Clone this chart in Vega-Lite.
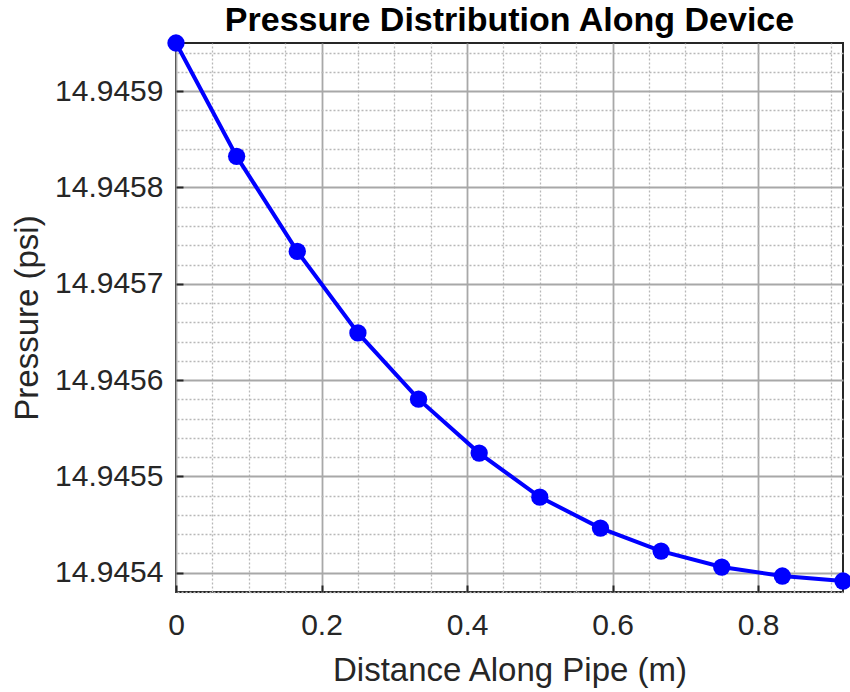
{
  "$schema": "https://vega.github.io/schema/vega-lite/v6.json",
  "width": 667,
  "height": 549,
  "autosize": {"type": "none"},
  "padding": {"left": 176, "top": 43, "right": 7, "bottom": 100},
  "background": "white",
  "title": {
    "text": "Pressure Distribution Along Device",
    "font": "Liberation Sans",
    "fontSize": 34,
    "fontWeight": "bold",
    "color": "#000000",
    "anchor": "middle",
    "frame": "group",
    "offset": -4
  },
  "config": {
    "view": {"stroke": "#262626", "strokeWidth": 2},
    "axis": {
      "labelFont": "Liberation Sans",
      "titleFont": "Liberation Sans",
      "labelColor": "#262626",
      "titleColor": "#262626",
      "labelFontSize": 30,
      "titleFontSize": 33,
      "titleFontWeight": "normal"
    }
  },
  "data": {
    "values": [
      {"distance": 0.0, "pressure": 14.94595},
      {"distance": 0.083333, "pressure": 14.9458323},
      {"distance": 0.166667, "pressure": 14.9457337},
      {"distance": 0.25, "pressure": 14.945649},
      {"distance": 0.333333, "pressure": 14.9455802},
      {"distance": 0.416667, "pressure": 14.9455242},
      {"distance": 0.5, "pressure": 14.9454785},
      {"distance": 0.583333, "pressure": 14.9454464},
      {"distance": 0.666667, "pressure": 14.9454225},
      {"distance": 0.75, "pressure": 14.9454059},
      {"distance": 0.833333, "pressure": 14.9453966},
      {"distance": 0.916667, "pressure": 14.9453914}
    ]
  },
  "resolve": {"axis": {"x": "independent", "y": "independent"}},
  "layer": [
    {
      "mark": {"type": "line", "color": "#0000FF", "strokeWidth": 4},
      "encoding": {
        "x": {
          "field": "distance", "type": "quantitative",
          "scale": {"domain": [0, 0.916667], "nice": false, "zero": false},
          "axis": {
            "orient": "top", "title": null, "labels": false, "ticks": false, "domain": false,
            "grid": true, "gridColor": "#b8b8b8", "gridDash": [2, 2], "gridWidth": 1.3,
            "values": [0.05, 0.1, 0.15, 0.25, 0.3, 0.35, 0.45, 0.5, 0.55, 0.65, 0.7, 0.75, 0.85, 0.9]
          }
        },
        "y": {
          "field": "pressure", "type": "quantitative",
          "scale": {"domain": [14.94538, 14.94595], "nice": false, "zero": false},
          "axis": {
            "orient": "right", "title": null, "labels": false, "ticks": false, "domain": false,
            "grid": true, "gridColor": "#b8b8b8", "gridDash": [2, 2], "gridWidth": 1.3,
            "values": [14.94538, 14.94542, 14.94544, 14.94546, 14.94548, 14.94552, 14.94554, 14.94556, 14.94558, 14.94562, 14.94564, 14.94566, 14.94568, 14.94572, 14.94574, 14.94576, 14.94578, 14.94582, 14.94584, 14.94586, 14.94588, 14.94592, 14.94594]
          }
        }
      }
    },
    {
      "mark": {"type": "point", "filled": true, "shape": "circle", "color": "#0000FF", "size": 300, "opacity": 1},
      "encoding": {
        "x": {
          "field": "distance", "type": "quantitative",
          "scale": {"domain": [0, 0.916667], "nice": false, "zero": false},
          "axis": {
            "orient": "bottom", "title": "Distance Along Pipe (m)",
            "values": [0, 0.2, 0.4, 0.6, 0.8], "format": "~g",
            "ticks": true, "tickSize": -7, "tickColor": "#262626", "tickWidth": 2,
            "domain": false, "labelFlush": false,
            "grid": true, "gridColor": "#a8a8a8", "gridWidth": 1.8,
            "labelBaseline": "alphabetic", "labelPadding": 49,
            "titleBaseline": "alphabetic", "titlePadding": 40
          }
        },
        "y": {
          "field": "pressure", "type": "quantitative",
          "scale": {"domain": [14.94538, 14.94595], "nice": false, "zero": false},
          "axis": {
            "orient": "left", "title": "Pressure (psi)",
            "values": [14.9454, 14.9455, 14.9456, 14.9457, 14.9458, 14.9459], "format": ".4f",
            "ticks": true, "tickSize": -7, "tickColor": "#262626", "tickWidth": 2,
            "domain": false,
            "grid": true, "gridColor": "#a8a8a8", "gridWidth": 1.8,
            "labelPadding": 20, "titlePadding": 10
          }
        }
      }
    }
  ]
}
